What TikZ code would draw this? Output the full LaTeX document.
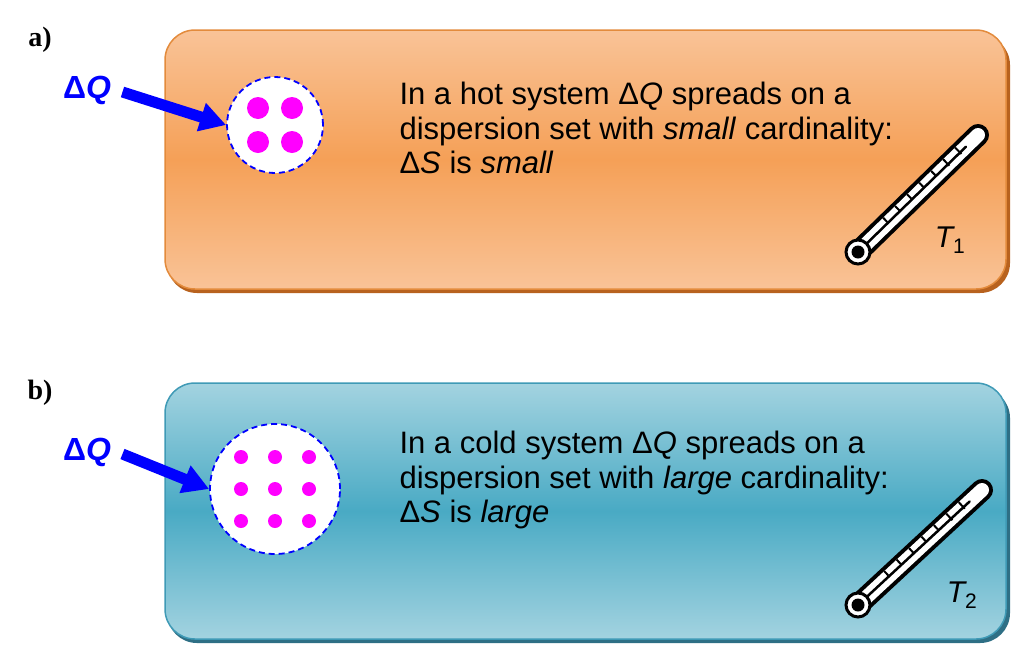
\documentclass[tikz,border=0pt]{standalone}
\usepackage{fontspec}
\setmainfont{Liberation Sans}
\newfontfamily\serifb{Liberation Serif}
\usetikzlibrary{arrows.meta,calc}
\definecolor{orA}{HTML}{F9C397}
\definecolor{orB}{HTML}{F5A057}
\definecolor{orE}{HTML}{E38B3C}
\definecolor{orS}{HTML}{B8621E}
\definecolor{blA}{HTML}{A3D3E0}
\definecolor{blB}{HTML}{49AAC4}
\definecolor{blE}{HTML}{3F9AB6}
\definecolor{blS}{HTML}{2E6F85}
\definecolor{mag}{HTML}{FF00FF}
\tikzset{
  panel/.style={rounded corners=30pt,line width=1.5pt},
  dq/.style={text=blue,font=\bfseries\fontsize{32}{36}\selectfont},
  tag/.style={font=\serifb\bfseries\fontsize{28}{32}\selectfont},
  body/.style={anchor=west,align=left,font=\fontsize{31}{34.5}\selectfont},
  push/.style={blue,line width=11pt,-{Triangle[length=26pt,width=28pt]}},
  cloud/.style={circle,draw=blue,dashed,line width=1.8pt,fill=white,dash pattern=on 6pt off 4pt},
  dot/.style={circle,fill=mag,inner sep=0pt},
  tlab/.style={font=\itshape\fontsize{30}{34}\selectfont}
}
\newcommand{\thermo}[3]{%
  \coordinate (#3b) at #1; \coordinate (#3t) at #2;
  \draw[line width=22pt,line cap=round] (#3b) -- (#3t);
  \draw[white,line width=14pt,line cap=round] (#3b) -- (#3t);
  \foreach \f/\l in {0.25/6,0.35/6,0.45/6,0.55/6,0.65/6,0.75/9,0.85/9} {
    \draw[line width=2pt] ($($(#3b)!\f!(#3t)$)!7pt!90:(#3t)$) -- ($($(#3b)!\f!(#3t)$)!{7pt-\l pt}!90:(#3t)$);
  }
  \draw[line width=2.5pt,line cap=round] (#3b) -- ($(#3b)!0.9!(#3t)$);
  \draw[line width=3pt,fill=white] (#3b) circle (12pt);
  \fill (#3b) circle (6.5pt);
}
\begin{document}
\begin{tikzpicture}[x=1pt,y=-1pt]
\useasboundingbox (0,0) rectangle (1024,662);
% panel a
\fill[orS,rounded corners=30pt] (167,35) rectangle (1010,293);
\shade[panel,top color=orA,bottom color=orA,middle color=orB,draw=orE] (165,30) rectangle (1006,289);
\node[tag] (la) at (40,40) {a)};
\node[dq] (qa) at (87,90) {Δ\textit{Q}};
\node[cloud,minimum size=96pt] (ca) at (275,125) {};
\foreach \x in {-17,17} \foreach \y in {-17,17}
  \node[dot,minimum size=22pt] at ($(ca)+(\x,\y)$) {};
\draw[push] ($(qa.east)+(8,2)$) -- (ca.west);
\node[body] (ta) at (396,128) {In a hot system Δ\textit{Q} spreads on a\\dispersion set with \textit{small} cardinality:\\Δ\textit{S} is \textit{small}};
\thermo{(858,252)}{(978,135)}{ha}
\node[tlab] (t1) at (950,240) {T\textsubscript{\upshape 1}};
% panel b
\fill[blS,rounded corners=30pt] (167,388) rectangle (1010,643);
\shade[panel,top color=blA,bottom color=blA,middle color=blB,draw=blE] (165,383) rectangle (1006,639);
\node[tag] (lb) at (40,393) {b)};
\node[dq] (qb) at (87,452) {Δ\textit{Q}};
\node[cloud,minimum size=130pt] (cb) at (275,489) {};
\foreach \x in {-34,0,34} \foreach \y in {-32,0,32}
  \node[dot,minimum size=14pt] at ($(cb)+(\x,\y)$) {};
\draw[push] ($(qb.east)+(8,2)$) -- (cb.west);
\node[body] (tb) at (396,480) {In a cold system Δ\textit{Q} spreads on a\\dispersion set with \textit{large} cardinality:\\Δ\textit{S} is \textit{large}};
\thermo{(858,605)}{(982,490)}{hb}
\node[tlab] (t2) at (962,595) {T\textsubscript{\upshape 2}};
\end{tikzpicture}
\end{document}
